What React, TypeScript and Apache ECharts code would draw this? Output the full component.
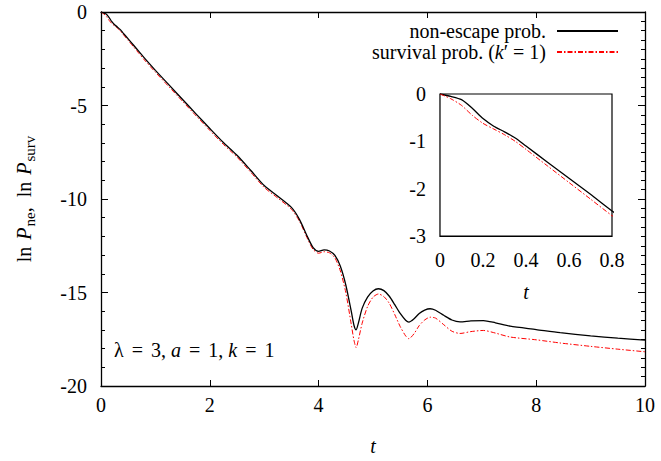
import React, { useEffect, useRef } from 'react';
import * as echarts from 'echarts';

// time samples
const tValues = [
  0, 0.05, 0.1, 0.15, 0.2, 0.25, 0.3, 0.35, 0.4, 0.5, 0.6, 0.7, 0.8,
  1.0, 1.25, 1.5, 1.75, 2.0, 2.25, 2.5, 2.75, 3.0, 3.25, 3.5, 3.65, 3.8, 3.9,
  4.0, 4.1, 4.2, 4.3, 4.4, 4.5, 4.6, 4.65, 4.69, 4.73, 4.8, 4.9,
  5.0, 5.1, 5.2, 5.3, 5.4, 5.5, 5.6, 5.66, 5.75, 5.85, 5.95,
  6.05, 6.15, 6.3, 6.45, 6.6, 6.8, 7.03, 7.25, 7.52, 8.0, 8.44, 9.0, 9.5, 10,
];

// ln P_ne (non-escape probability)
const nonEscape = [
  0, -0.05, -0.12, -0.3, -0.52, -0.68, -0.8, -0.93, -1.1, -1.44, -1.78, -2.12, -2.47,
  -3.12, -3.9, -4.68, -5.46, -6.23, -6.98, -7.66, -8.46, -9.28, -9.85, -10.45, -11.1, -12.05, -12.6,
  -12.8, -12.72, -12.78, -13.02, -13.6, -14.6, -16.0, -16.75, -17.0, -16.65, -15.85, -15.25,
  -14.92, -14.8, -14.9, -15.2, -15.65, -16.12, -16.48, -16.58, -16.42, -16.12, -15.94,
  -15.87, -15.95, -16.22, -16.47, -16.57, -16.52, -16.5, -16.62, -16.8, -16.98, -17.15, -17.32, -17.44, -17.55,
];

// ln P_surv (survival probability, k' = 1)
const survival = [
  0, -0.1, -0.24, -0.45, -0.62, -0.74, -0.86, -1.0, -1.17, -1.52, -1.87, -2.22, -2.57,
  -3.22, -4.0, -4.78, -5.56, -6.33, -7.08, -7.76, -8.56, -9.38, -9.95, -10.55, -11.2, -12.15, -12.7,
  -12.9, -12.82, -12.88, -13.15, -13.85, -15.0, -16.7, -17.55, -17.95, -17.55, -16.65, -15.75,
  -15.25, -15.08, -15.22, -15.58, -16.18, -16.82, -17.32, -17.47, -17.22, -16.77, -16.47,
  -16.32, -16.37, -16.72, -17.07, -17.19, -17.09, -17.03, -17.17, -17.38, -17.53, -17.7, -17.88, -18.03, -18.17,
];

const seriesNames = ['non-escape prob.', 'survival prob. (k′ = 1)'];

const FONT = 'Liberation Serif';
const FS = 20;

export default function App() {
  const ref = useRef<HTMLDivElement>(null);

  useEffect(() => {
    if (!ref.current) return;
    const chart = echarts.init(ref.current, undefined, { renderer: 'svg' });

    const blackData = tValues.map((t, i) => [t, nonEscape[i]]);
    const redData = tValues.map((t, i) => [t, survival[i]]);

    const labelStyle = { fontFamily: FONT, fontSize: FS, color: '#000' };
    const axisLine = { show: true, onZero: false, lineStyle: { color: '#000', width: 1.3 } };

    const blackLine = { color: '#000', width: 1.3, type: 'solid' as const };
    const redLine = { color: '#ff0000', width: 1, type: [5, 2, 1.5, 2] as any };

    const option: any = {
      animation: false,
      backgroundColor: '#fff',
      textStyle: { fontFamily: FONT },
      grid: [
        { left: 101, top: 12, right: 16, bottom: 70 },
        {
          left: 440, top: 94, width: 172, height: 142, show: true,
          borderColor: '#000', borderWidth: 1.2, backgroundColor: '#fff', z: 5,
        },
      ],
      legend: {
        data: seriesNames,
        orient: 'vertical',
        align: 'right',
        right: 42,
        top: 21,
        padding: 0,
        itemWidth: 61,
        itemHeight: 10,
        itemGap: 1,
        itemStyle: { opacity: 0 },
        textStyle: {
          fontFamily: FONT, fontSize: FS, color: '#000', padding: [0, 6, 0, 0],
          rich: {
            n: { fontFamily: FONT, fontSize: FS, color: '#000' },
            i: { fontFamily: FONT, fontSize: FS, color: '#000', fontStyle: 'italic' },
          },
        },
        formatter: (name: string) => {
          if (name === seriesNames[1]) return '{n|survival prob. (}{i|k}{n|′ = 1)}';
          return '{n|' + name + '}';
        },
      },
      xAxis: [
        {
          type: 'value', gridIndex: 0, position: 'bottom', min: 0, max: 10, interval: 2,
          axisLine, axisTick: { show: true, inside: true, length: 6, lineStyle: { color: '#000' } },
          axisLabel: { ...labelStyle, margin: 9 },
          splitLine: { show: false },
          name: 't', nameLocation: 'middle', nameGap: 50,
          nameTextStyle: { ...labelStyle, fontStyle: 'italic' },
        },
        {
          type: 'value', gridIndex: 0, position: 'top', min: 0, max: 10, interval: 2,
          axisLine, axisTick: { show: true, inside: true, length: 6, lineStyle: { color: '#000' } },
          axisLabel: { show: false }, splitLine: { show: false },
        },
        {
          type: 'value', gridIndex: 1, position: 'bottom', min: 0, max: 0.8, interval: 0.2,
          axisLine: { show: true, onZero: false, lineStyle: { color: '#000', width: 1.2 } },
          axisTick: { show: false },
          axisLabel: { ...labelStyle, margin: 14 },
          splitLine: { show: false },
          name: 't', nameLocation: 'middle', nameGap: 46,
          nameTextStyle: { ...labelStyle, fontStyle: 'italic' },
        },
      ],
      yAxis: [
        {
          type: 'value', gridIndex: 0, position: 'left', min: -20, max: 0, interval: 5,
          axisLine, axisTick: { show: true, inside: true, length: 7, lineStyle: { color: '#000' } },
          minorTick: { show: true, splitNumber: 5, length: 4, lineStyle: { color: '#000' } },
          axisLabel: { ...labelStyle, margin: 14 },
          splitLine: { show: false },
          name: '{n|ln }{i|P}{s|ne}{n|,  ln }{i|P}{s|surv}',
          nameLocation: 'middle', nameGap: 64, nameRotate: 90,
          nameTextStyle: {
            ...labelStyle,
            rich: {
              n: { fontFamily: FONT, fontSize: FS, color: '#000', verticalAlign: 'middle', padding: [0, 1, 0, 0] },
              i: { fontFamily: FONT, fontSize: FS, color: '#000', fontStyle: 'italic', verticalAlign: 'middle', padding: [0, 1, 0, 1] },
              s: { fontFamily: FONT, fontSize: 15, color: '#000', verticalAlign: 'bottom', padding: [11, 0, 0, 0] },
            },
          },
        },
        {
          type: 'value', gridIndex: 0, position: 'right', min: -20, max: 0, interval: 5,
          axisLine, axisTick: { show: true, inside: true, length: 7, lineStyle: { color: '#000' } },
          minorTick: { show: true, splitNumber: 10, length: 4, lineStyle: { color: '#000' } },
          axisLabel: { show: false }, splitLine: { show: false },
        },
        {
          type: 'value', gridIndex: 1, position: 'left', min: -3, max: 0, interval: 1,
          axisLine: { show: true, onZero: false, lineStyle: { color: '#000', width: 1.2 } },
          axisTick: { show: false },
          axisLabel: { ...labelStyle, margin: 14 },
          splitLine: { show: false },
        },
      ],
      series: [
        {
          name: seriesNames[0], type: 'line', xAxisIndex: 0, yAxisIndex: 0, data: blackData,
          symbol: 'none', smooth: 0.25, lineStyle: blackLine, itemStyle: { color: '#000' }, z: 3,
        },
        {
          name: seriesNames[1], type: 'line', xAxisIndex: 0, yAxisIndex: 0, data: redData,
          symbol: 'none', smooth: 0.25, lineStyle: redLine, itemStyle: { color: '#ff0000' }, z: 2,
        },
        {
          name: seriesNames[0], type: 'line', xAxisIndex: 2, yAxisIndex: 2, data: blackData,
          symbol: 'none', smooth: 0.25, lineStyle: blackLine, itemStyle: { color: '#000' }, z: 6,
          clip: true,
        },
        {
          name: seriesNames[1], type: 'line', xAxisIndex: 2, yAxisIndex: 2, data: redData,
          symbol: 'none', smooth: 0.25, lineStyle: redLine, itemStyle: { color: '#ff0000' }, z: 6,
          clip: true,
        },
      ],
      graphic: [
        {
          type: 'text', left: 114, top: 340, z: 10,
          style: {
            text: '{n|λ}{e|=}{n|3, }{i|a}{e|=}{n|1, }{i|k}{e|=}{n|1}',
            rich: {
              n: { fontFamily: FONT, fontSize: FS, fill: '#000' },
              i: { fontFamily: FONT, fontSize: FS, fill: '#000', fontStyle: 'italic' },
              e: { fontFamily: FONT, fontSize: FS, fill: '#000', padding: [0, 8, 0, 8] },
            },
          },
        },
      ],
    };

    chart.setOption(option);
    return () => chart.dispose();
  }, []);

  return (
    <div
      ref={ref}
      style={{ position: 'absolute', left: 0, top: 0, width: 661, height: 461, background: '#fff' }}
    />
  );
}
